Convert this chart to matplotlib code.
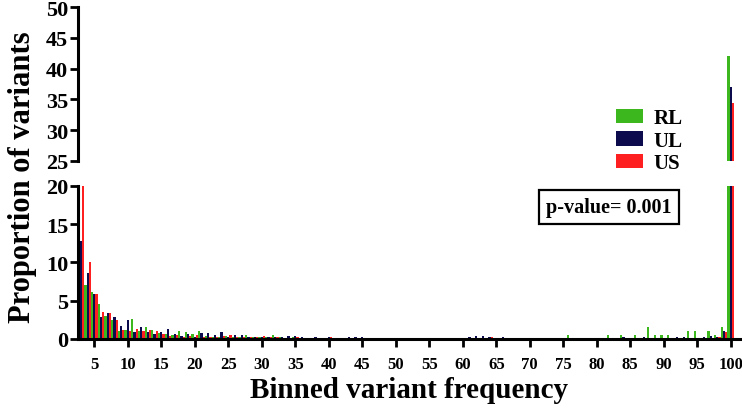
# Binned variant frequency - proportion of variants in RL, UL and US samples
# drawn on a broken y axis (0-20 below, 25-50 above)

import matplotlib
matplotlib.use('Agg')
import matplotlib.pyplot
import numpy

# bins 3..100, one value per bin and per sample
bins = list(range(3, 101))

rl = [12, 7.1, 6.1, 4.6, 3.0, 2.5, 1.0,                              # 3-9
      1.2, 2.6, 1.0, 1.5, 1.2, 0.8, 0.7, 0.5, 1.0, 0.9,              # 10-19
      0.6, 1.0, 0.4, 0.3, 0.3, 0.4, 0.2, 0.3, 0.5, 0.2,              # 20-29
      0.2, 0.2, 0.5, 0.2, 0.1, 0.2, 0.1, 0.1, 0.1, 0.1,              # 30-39
      0.1, 0.1, 0.05, 0.1, 0.05, 0.1, 0.05, 0.05, 0.1, 0.05,         # 40-49
      0.05, 0.05, 0.05, 0.05, 0.05, 0.05, 0.05, 0.05, 0.05, 0.05,    # 50-59
      0.05, 0.05, 0.1, 0.05, 0.05, 0.05, 0.05, 0.05, 0.05, 0.05,     # 60-69
      0.05, 0.05, 0.05, 0.05, 0.1, 0.1, 0.5, 0.05, 0.05, 0.05,       # 70-79
      0.05, 0.1, 0.5, 0.1, 0.55, 0.1, 0.55, 0.1, 1.5, 0.55,          # 80-89
      0.55, 0.55, 0.1, 0.1, 1.0, 1.0, 0.1, 1.0, 0.55, 1.5,           # 90-99
      42]                                                            # 100

ul = [12.8, 8.6, 5.9, 2.8, 3.4, 2.8, 1.7,
      2.5, 0.9, 1.5, 0.9, 0.7, 0.9, 1.3, 0.6, 0.4, 0.6,
      0.3, 0.8, 0.8, 0.5, 0.9, 0.2, 0.5, 0.5, 0.2, 0.2,
      0.2, 0.2, 0.2, 0.2, 0.4, 0.4, 0.3, 0.15, 0.3, 0.15,
      0.2, 0.15, 0.15, 0.2, 0.25, 0.2, 0.15, 0.15, 0.15, 0.15,
      0.15, 0.1, 0.1, 0.1, 0.1, 0.15, 0.1, 0.1, 0.1, 0.1,
      0.1, 0.3, 0.35, 0.35, 0.2, 0.15, 0.3, 0.1, 0.1, 0.1,
      0.1, 0.1, 0.1, 0.1, 0.1, 0.1, 0.1, 0.1, 0.1, 0.1,
      0.1, 0.1, 0.1, 0.1, 0.3, 0.1, 0.1, 0.2, 0.1, 0.1,
      0.1, 0.1, 0.2, 0.2, 0.1, 0.1, 0.3, 0.4, 0.2, 1.0,
      37]

us = [21, 10.0, 5.9, 3.5, 3.4, 2.5, 1.2,
      1.0, 1.3, 1.0, 1.2, 1.0, 0.6, 0.4, 0.5, 0.3, 0.4,
      0.5, 0.3, 0.3, 0.2, 0.4, 0.5, 0.2, 0.2, 0.2, 0.2,
      0.4, 0.2, 0.2, 0.15, 0.15, 0.3, 0.1, 0.1, 0.1, 0.1,
      0.25, 0.1, 0.1, 0.1, 0.1, 0.1, 0.1, 0.1, 0.1, 0.1,
      0.1, 0.1, 0.1, 0.1, 0.1, 0.1, 0.1, 0.1, 0.1, 0.1,
      0.1, 0.1, 0.1, 0.1, 0.3, 0.1, 0.1, 0.08, 0.08, 0.08,
      0.08, 0.08, 0.08, 0.08, 0.08, 0.08, 0.08, 0.08, 0.08, 0.08,
      0.08, 0.08, 0.08, 0.08, 0.15, 0.08, 0.08, 0.08, 0.08, 0.08,
      0.08, 0.08, 0.1, 0.1, 0.08, 0.08, 0.1, 0.15, 0.3, 0.9,
      34.5]

series = [('RL', rl, '#3cb81e'), ('UL', ul, '#0b0b4d'), ('US', us, '#fe2020')]
xticks = list(range(5, 101, 5))

matplotlib.pyplot.rcParams['font.family'] = ['Liberation Serif', 'DejaVu Serif']
matplotlib.pyplot.rcParams['font.weight'] = 'bold'
matplotlib.pyplot.rcParams['axes.labelweight'] = 'bold'

fig = matplotlib.pyplot.figure(figsize=(7.42, 4.10), dpi=100)
ax_up = fig.add_axes([0.105, 0.605, 0.892, 0.375])
ax_low = fig.add_axes([0.105, 0.171, 0.892, 0.373])

# three bars per bin, side by side
x = numpy.array(bins)
w = 1 / 3
for k, (name, vals, col) in enumerate(series):
    for ax in (ax_up, ax_low):
        ax.bar(x + (k - 1) * w, vals, width=w, color=col, linewidth=0, label=name)

# broken axis limits
ax_up.set_ylim(25, 50)
ax_low.set_ylim(0, 20)
for ax in (ax_up, ax_low):
    ax.set_xlim(2.55, 101.35)
    ax.spines['top'].set_visible(False)
    ax.spines['right'].set_visible(False)
    ax.spines['left'].set_linewidth(2.2)
    ax.tick_params(axis='y', direction='out', length=6, width=2, labelsize=16, pad=1)

ax_up.spines['bottom'].set_visible(False)
ax_up.set_xticks([])
ax_up.set_yticks(range(25, 51, 5))

ax_low.spines['bottom'].set_linewidth(2.2)
ax_low.set_yticks(range(0, 21, 5))
ax_low.set_xticks(xticks)
ax_low.tick_params(axis='x', direction='out', length=6, width=2, labelsize=12, pad=6)

ax_low.set_xlabel('Binned variant frequency', fontsize=21, fontweight='bold', labelpad=3)
fig.text(0.03, 0.567, 'Proportion of variants', rotation=90, fontsize=22,
         fontweight='bold', ha='center', va='center')

# legend with square handles
h, lab = ax_low.get_legend_handles_labels()
fig.legend(h, lab, loc='upper left', bbox_to_anchor=(0.83, 0.733), frameon=False,
           fontsize=15, borderpad=0, borderaxespad=0, handlelength=1.3,
           handleheight=0.7, handletextpad=0.5, labelspacing=0.12)

# p-value box
fig.text(0.821, 0.492, 'p-value= 0.001', fontsize=14.5, ha='center', va='center',
         bbox=dict(boxstyle='square,pad=0.35', fc='white', ec='black', lw=1.6))

fig.savefig('out.png', dpi=100)
